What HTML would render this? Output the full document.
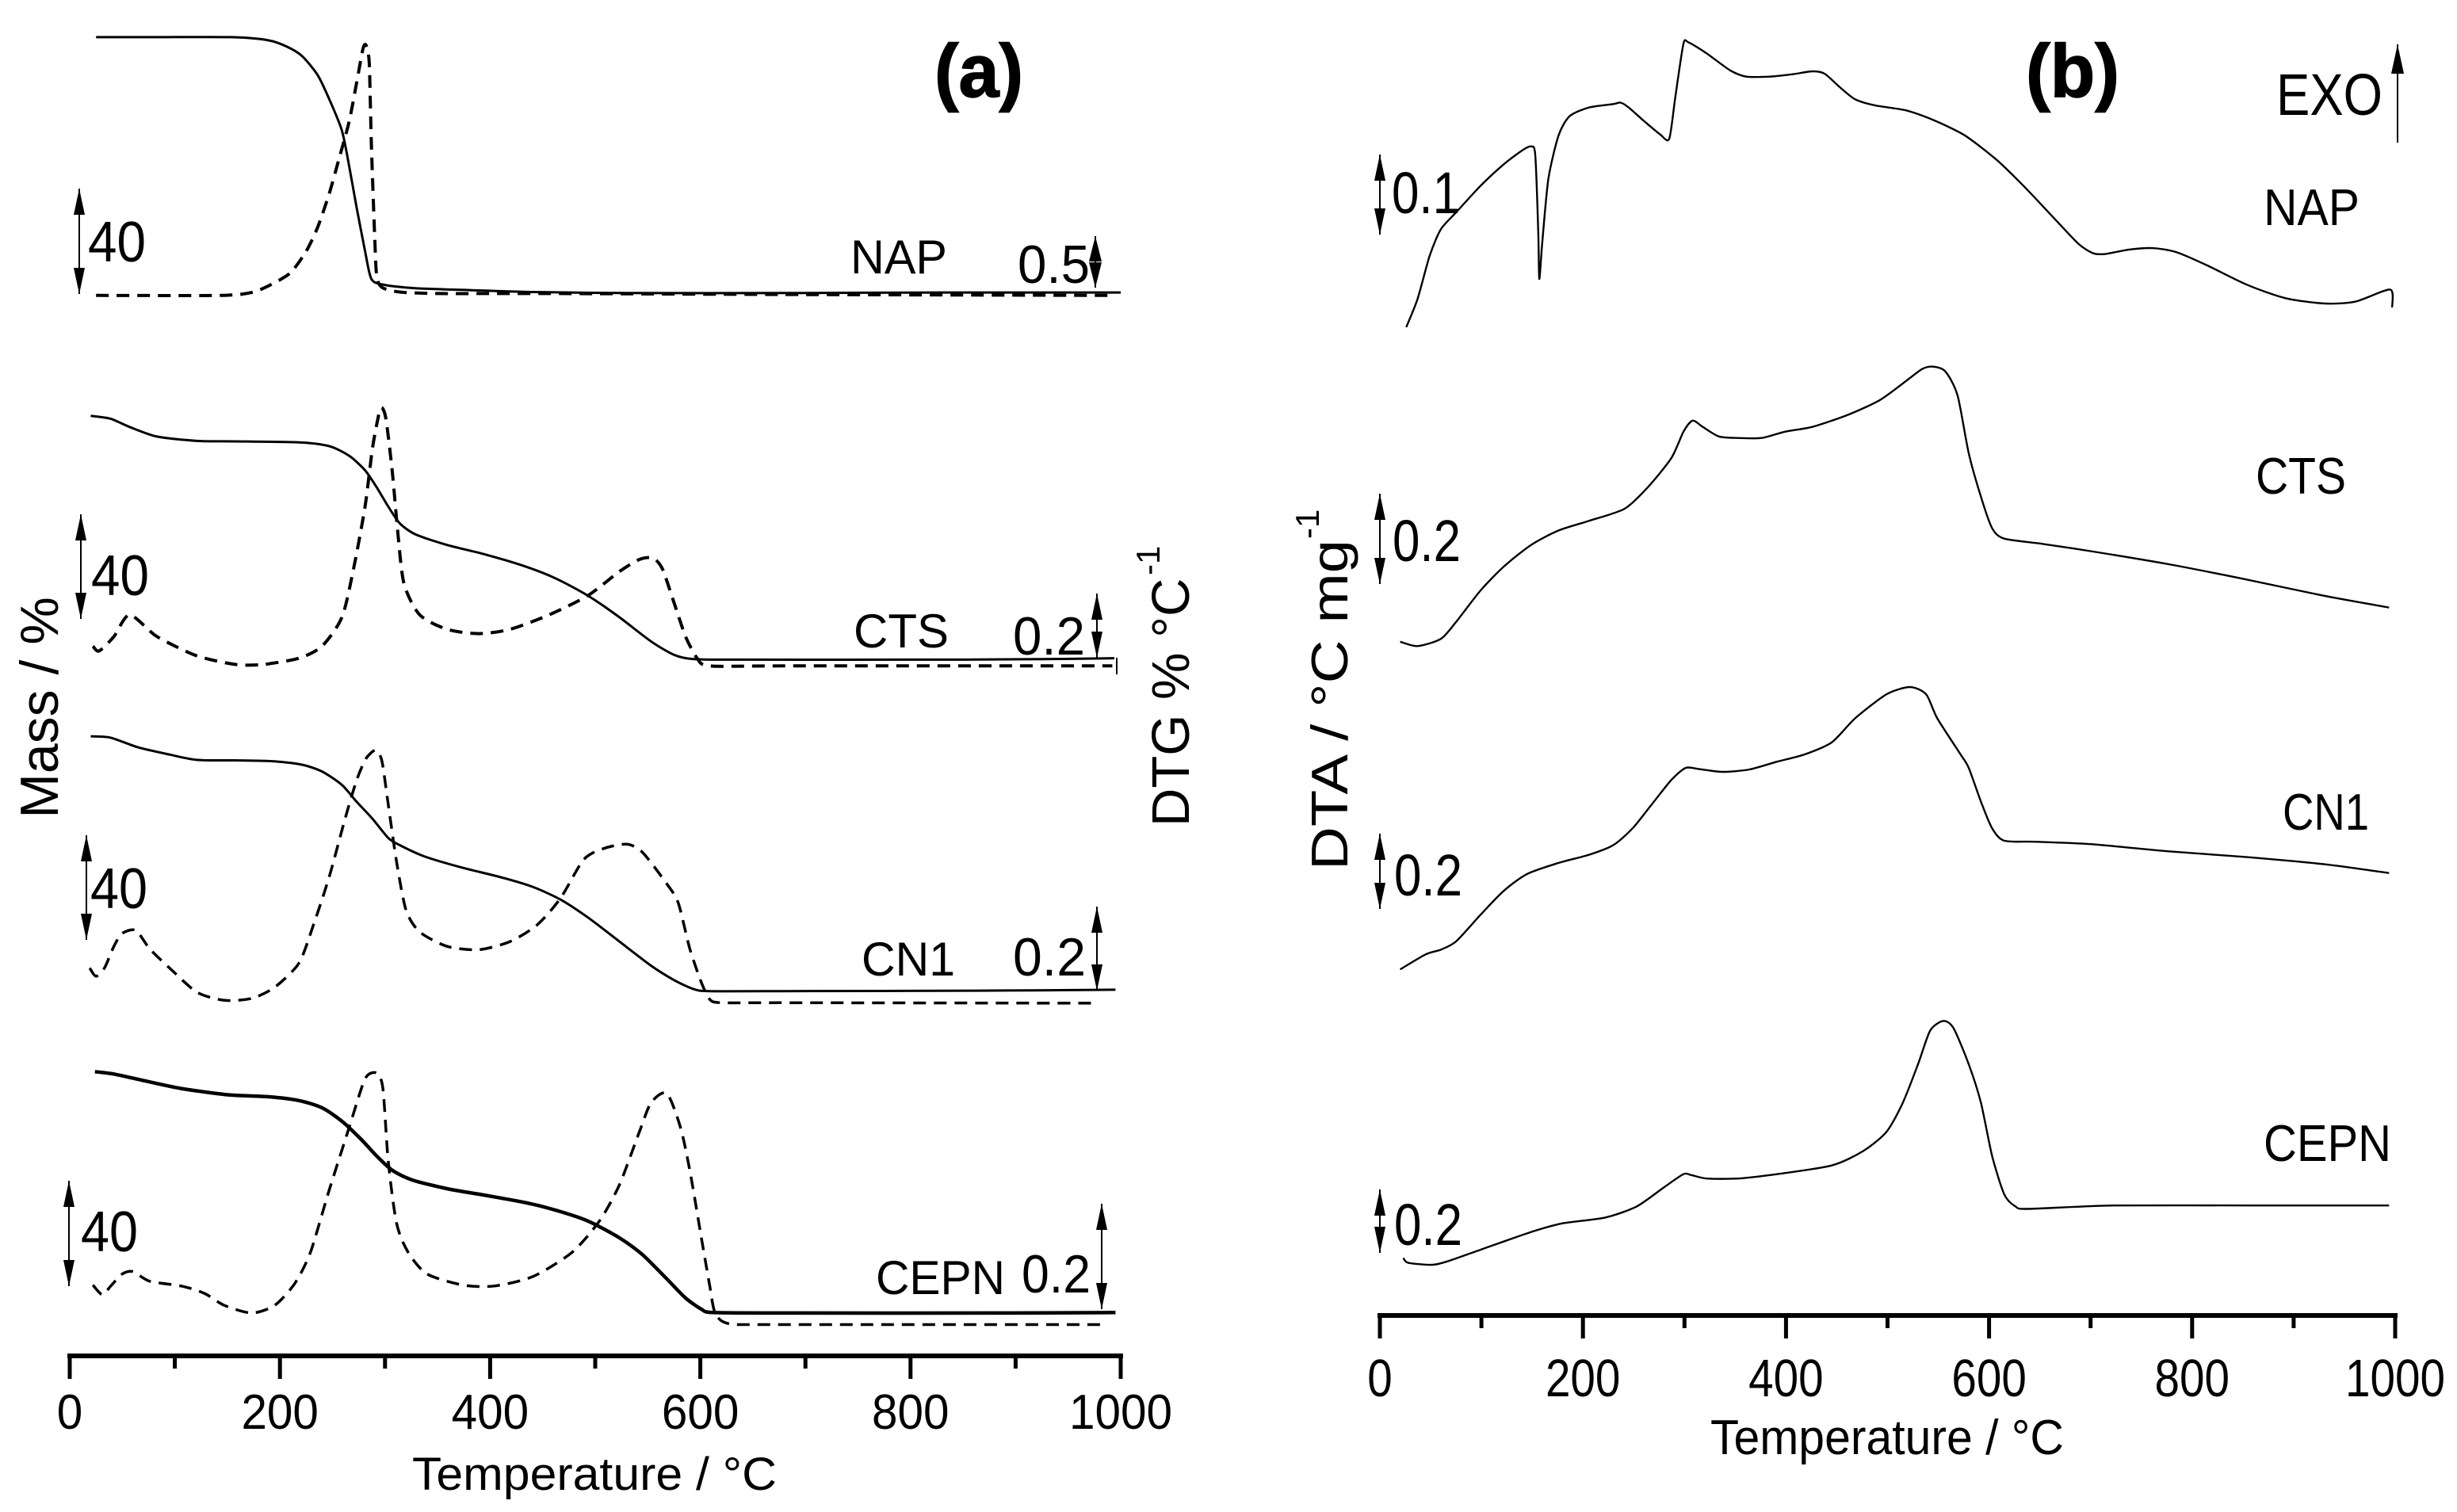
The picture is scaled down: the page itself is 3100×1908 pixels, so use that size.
<!DOCTYPE html>
<html>
<head>
<meta charset="utf-8">
<title>TG/DTG and DTA curves</title>
<style>
html,body{margin:0;padding:0;background:#fff;width:3100px;height:1908px;overflow:hidden}
svg{display:block}
text{font-family:"Liberation Sans",sans-serif;fill:#000}
</style>
</head>
<body>
<svg id="chart" width="3100" height="1908" viewBox="0 0 3100 1908" xmlns="http://www.w3.org/2000/svg">
<rect width="3100" height="1908" fill="#fff"/>
<g id="marks"></g>
<g id="annotations"></g>
<g>
<text x="1179" y="122" font-size="95" font-weight="bold" stroke="#000" stroke-width="1.5" textLength="112" lengthAdjust="spacingAndGlyphs">(a)</text>
<text x="2556" y="122" font-size="95" font-weight="bold" stroke="#000" stroke-width="1.5" textLength="118" lengthAdjust="spacingAndGlyphs">(b)</text>
<text transform="translate(73 893) rotate(-90)" text-anchor="middle" font-size="68">Mass / %</text>
<text transform="translate(1500 1043) rotate(-90)" font-size="67">DTG % °C</text>
<text transform="translate(1463 726) rotate(-90)" font-size="42">-1</text>
<text transform="translate(1700 1098) rotate(-90)" font-size="65" textLength="417" lengthAdjust="spacingAndGlyphs">DTA / °C mg</text>
<text transform="translate(1664 680) rotate(-90)" font-size="42">-1</text>
<text x="520" y="1880" font-size="58" textLength="460" lengthAdjust="spacingAndGlyphs">Temperature / °C</text>
<text x="2158" y="1835" font-size="62" textLength="446" lengthAdjust="spacingAndGlyphs">Temperature / °C</text>
<text x="1073" y="345" font-size="60" textLength="122" lengthAdjust="spacingAndGlyphs">NAP</text>
<text x="1077" y="817" font-size="60" textLength="120" lengthAdjust="spacingAndGlyphs">CTS</text>
<text x="1087" y="1231" font-size="60" textLength="118" lengthAdjust="spacingAndGlyphs">CN1</text>
<text x="1105" y="1633" font-size="60" textLength="163" lengthAdjust="spacingAndGlyphs">CEPN</text>
<text x="2856" y="284" font-size="65" textLength="121" lengthAdjust="spacingAndGlyphs">NAP</text>
<text x="2846" y="623" font-size="65" textLength="114" lengthAdjust="spacingAndGlyphs">CTS</text>
<text x="2880" y="1047" font-size="65" textLength="109" lengthAdjust="spacingAndGlyphs">CN1</text>
<text x="2856" y="1465" font-size="65" textLength="161" lengthAdjust="spacingAndGlyphs">CEPN</text>
<text x="2872" y="145" font-size="74" textLength="134" lengthAdjust="spacingAndGlyphs">EXO</text>
<text x="111" y="330" font-size="72" textLength="73" lengthAdjust="spacingAndGlyphs">40</text>
<text x="115" y="751" font-size="72" textLength="73" lengthAdjust="spacingAndGlyphs">40</text>
<text x="114" y="1146" font-size="72" textLength="72" lengthAdjust="spacingAndGlyphs">40</text>
<text x="102" y="1579" font-size="72" textLength="72" lengthAdjust="spacingAndGlyphs">40</text>
<text x="1284" y="357" font-size="68" textLength="91" lengthAdjust="spacingAndGlyphs">0.5</text>
<text x="1278" y="826" font-size="68" textLength="91" lengthAdjust="spacingAndGlyphs">0.2</text>
<text x="1278" y="1231" font-size="68" textLength="92" lengthAdjust="spacingAndGlyphs">0.2</text>
<text x="1289" y="1631" font-size="68" textLength="87" lengthAdjust="spacingAndGlyphs">0.2</text>
<text x="1756" y="269" font-size="74" textLength="86" lengthAdjust="spacingAndGlyphs">0.1</text>
<text x="1757" y="708" font-size="74" textLength="86" lengthAdjust="spacingAndGlyphs">0.2</text>
<text x="1759" y="1130" font-size="74" textLength="86" lengthAdjust="spacingAndGlyphs">0.2</text>
<text x="1759" y="1571" font-size="74" textLength="86" lengthAdjust="spacingAndGlyphs">0.2</text>
</g>
</svg>
<script>
// Tick values for both temperature axes
const tickValues = [0,100,200,300,400,500,600,700,800,900,1000];
const tickLabels = ['0','','200','','400','','600','','800','','1000'];

// Panel (a) — temperature (°C) and signal (arbitrary units above the axis)
const napTgT = [25,83,154,188,206,221,236,247,259,266,273,281,287,299,329,381,441,530,679,828,1000];
const napTgV = [2737,2737,2737,2731,2718,2698,2658,2608,2543,2468,2383,2293,2235,2223,2216,2212,2208,2206,2206,2207,2207];
const napDtgT = [25,143,173,191,210,225,236,247,256,266,273,279,282,285,287,290,292,297,314,352,456,679,992];
const napDtgV = [2201,2201,2207,2223,2248,2293,2343,2413,2483,2563,2643,2713,2720,2683,2513,2333,2243,2218,2208,2205,2205,2203,2201];
const ctsTgT = [20,39,57,83,121,158,218,247,266,281,292,303,314,329,359,396,434,463,493,523,553,575,594,642,828,925,994];
const ctsTgV = [1951,1945,1928,1908,1899,1898,1896,1888,1868,1838,1803,1763,1728,1705,1683,1663,1638,1613,1578,1533,1483,1455,1446,1445,1445,1446,1448];
const ctsDtgT = [22,28,42,57,83,121,158,184,218,240,259,270,281,288,294,297,301,307,312,318,333,359,389,419,456,493,523,542,555,564,575,586,597,609,679,992];
const ctsDtgV = [1473,1463,1493,1538,1493,1453,1435,1435,1448,1473,1533,1633,1763,1883,1953,1968,1943,1833,1713,1603,1538,1508,1499,1508,1538,1578,1628,1653,1656,1633,1563,1493,1448,1432,1432,1432];
const cn1TgT = [20,39,65,95,121,158,195,221,240,259,273,288,303,314,337,374,411,441,467,493,523,553,575,594,609,679,866,995];
const cn1TgV = [1286,1283,1263,1248,1237,1236,1234,1227,1213,1185,1150,1115,1075,1060,1037,1013,993,973,947,910,860,810,780,761,757,757,758,760];
const cn1DtgT = [19,25,33,42,50,63,76,95,121,147,173,195,218,232,247,262,273,282,291,297,303,311,320,333,359,389,419,445,467,489,508,530,545,568,579,590,601,609,620,679,977];
const cn1DtgV = [805,788,805,850,877,883,845,805,755,738,742,765,815,895,995,1115,1195,1240,1257,1235,1145,1025,925,880,850,843,860,895,950,1030,1053,1062,1045,980,940,845,775,740,733,733,732];
const cepnTgT = [24,42,69,106,150,188,218,240,259,277,292,307,326,359,396,434,463,493,523,545,568,586,601,612,679,873,995];
const cepnTgV = [590,585,572,555,542,538,530,515,487,450,415,385,365,347,333,318,302,280,245,210,160,120,97,90,89,89,90];
const cepnDtgT = [22,31,39,50,60,76,106,128,147,173,195,214,229,247,266,281,292,298,303,311,322,340,374,404,441,478,504,523,542,553,568,581,590,601,609,614,627,679,985];
const cepnDtgV = [147,127,145,170,175,155,145,130,105,89,105,150,215,345,475,575,587,555,405,275,215,170,147,145,165,215,280,355,465,525,545,475,385,245,145,90,67,65,65];

// Panel (b) — temperature (°C) and DTA signal (arbitrary units above the axis)
const napDtaT = [26,37,49,60,75,99,122,141,149,153,156,157,160,166,176,187,206,230,237,245,260,276,285,291,299,304,322,345,361,384,407,426,438,453,468,488,518,545,576,607,634,661,688,703,715,738,761,784,815,854,892,931,961,995,997];
const napDtaV = [2048,2106,2196,2251,2286,2341,2386,2416,2423,2406,2246,2148,2226,2356,2446,2486,2504,2511,2514,2504,2476,2448,2439,2526,2636,2639,2616,2581,2568,2568,2573,2579,2574,2546,2521,2508,2498,2478,2446,2396,2341,2281,2221,2201,2200,2209,2212,2204,2176,2136,2108,2097,2101,2126,2089];
const ctsDtaT = [20,37,60,75,99,122,149,176,206,241,264,287,299,308,318,334,353,376,399,426,461,492,515,534,545,557,569,580,592,603,615,653,700,777,854,931,994];
const ctsDtaV = [1395,1386,1401,1436,1501,1551,1596,1626,1646,1671,1716,1776,1831,1854,1841,1821,1818,1818,1831,1841,1866,1896,1931,1961,1966,1956,1906,1786,1696,1631,1609,1598,1583,1556,1524,1490,1466];
const cn1DtaT = [20,45,60,75,99,122,145,176,206,230,249,268,287,301,314,337,364,391,418,445,468,499,522,538,549,572,580,592,603,615,646,700,777,854,931,994];
const cn1DtaV = [715,746,756,773,828,878,913,936,953,973,1008,1058,1108,1133,1131,1125,1130,1146,1161,1186,1236,1286,1301,1286,1236,1161,1133,1063,1008,982,980,975,960,948,933,915];
const cepnDtaT = [23,28,52,68,99,149,180,222,253,280,299,307,322,353,391,445,476,499,515,530,542,555,565,580,592,603,615,626,638,723,854,994];
const cepnDtaV = [116,106,102,110,133,170,188,200,223,263,290,288,281,281,290,308,338,378,438,518,588,608,593,518,438,328,248,223,218,225,225,225];

const SVGNS = 'http://www.w3.org/2000/svg';
const marks = document.getElementById('marks');
const annotations = document.getElementById('annotations');
const UNIT = 0.608;
const xA = t => 88 + t * 1.326;
const yA = v => 1711 - v * UNIT;
const xB = t => 1741 + t * 1.281;
const yB = v => 1658 - v * UNIT;

function pathFrom(ts, vs, sx, sy) {
  const p = ts.map((t, i) => [sx(t), sy(vs[i])]);
  let d = 'M' + p[0][0].toFixed(1) + ' ' + p[0][1].toFixed(1);
  for (let i = 0; i < p.length - 1; i++) {
    const a = p[Math.max(i - 1, 0)], b = p[i], c = p[i + 1], e = p[Math.min(i + 2, p.length - 1)];
    const k = 1 / 8;
    d += ' C' + (b[0] + (c[0] - a[0]) * k).toFixed(1) + ' ' + (b[1] + (c[1] - a[1]) * k).toFixed(1) +
         ' ' + (c[0] - (e[0] - b[0]) * k).toFixed(1) + ' ' + (c[1] - (e[1] - b[1]) * k).toFixed(1) +
         ' ' + c[0].toFixed(1) + ' ' + c[1].toFixed(1);
  }
  return d;
}

function drawCurve(name, ts, vs, sx, sy, width, dash) {
  const el = document.createElementNS(SVGNS, 'path');
  
  
  el.setAttribute('d', pathFrom(ts, vs, sx, sy));
  el.setAttribute('fill', 'none');
  el.setAttribute('stroke', '#000');
  el.setAttribute('stroke-width', width);
  el.setAttribute('stroke-linejoin', 'round');
  if (dash) el.setAttribute('stroke-dasharray', dash);
  marks.appendChild(el);
}

drawCurve('nap-mass-curve', napTgT, napTgV, xA, yA, 3, null);
drawCurve('nap-dtg-curve', napDtgT, napDtgV, xA, yA, 4, '16 10');
drawCurve('cts-mass-curve', ctsTgT, ctsTgV, xA, yA, 3, null);
drawCurve('cts-dtg-curve', ctsDtgT, ctsDtgV, xA, yA, 4, '16 10');
drawCurve('cn1-mass-curve', cn1TgT, cn1TgV, xA, yA, 3, null);
drawCurve('cn1-dtg-curve', cn1DtgT, cn1DtgV, xA, yA, 3.5, '16 10');
drawCurve('cepn-mass-curve', cepnTgT, cepnTgV, xA, yA, 4.5, null);
drawCurve('cepn-dtg-curve', cepnDtgT, cepnDtgV, xA, yA, 3.5, '16 10');
drawCurve('nap-dta-curve', napDtaT, napDtaV, xB, yB, 2.4, null);
drawCurve('cts-dta-curve', ctsDtaT, ctsDtaV, xB, yB, 2.4, null);
drawCurve('cn1-dta-curve', cn1DtaT, cn1DtaV, xB, yB, 2.4, null);
drawCurve('cepn-dta-curve', cepnDtaT, cepnDtaV, xB, yB, 2.4, null);

function drawAxis(prefix, sx, axisY, labelY, fontSize, digitWidth) {
  const line = document.createElementNS(SVGNS, 'line');
  
  
  line.setAttribute('x1', sx(0) - 3);
  line.setAttribute('x2', sx(1000) + 3);
  line.setAttribute('y1', axisY);
  line.setAttribute('y2', axisY);
  line.setAttribute('stroke', '#000');
  line.setAttribute('stroke-width', 6);
  marks.appendChild(line);
  tickValues.forEach((t, i) => {
    const tick = document.createElementNS(SVGNS, 'line');
    
    
    tick.setAttribute('x1', sx(t));
    tick.setAttribute('x2', sx(t));
    tick.setAttribute('y1', axisY);
    tick.setAttribute('y2', axisY + (tickLabels[i] ? 29 : 16));
    tick.setAttribute('stroke', '#000');
    tick.setAttribute('stroke-width', 5);
    marks.appendChild(tick);
    if (tickLabels[i]) {
      const label = document.createElementNS(SVGNS, 'text');
      
      
      label.setAttribute('x', sx(t));
      label.setAttribute('y', labelY);
      label.setAttribute('text-anchor', 'middle');
      label.setAttribute('font-size', fontSize);
      label.setAttribute('textLength', tickLabels[i].length * digitWidth);
      label.setAttribute('lengthAdjust', 'spacingAndGlyphs');
      label.textContent = tickLabels[i];
      marks.appendChild(label);
    }
  });
}
drawAxis('panel-a', xA, 1711, 1803, 62, 32.5);
drawAxis('panel-b', xB, 1660, 1762, 67, 31.5);

function drawArrow(name, x, y1, y2, w, up, down, L) {
  const g = document.createElementNS(SVGNS, 'g');
  
  
  const shaft = document.createElementNS(SVGNS, 'line');
  shaft.setAttribute('x1', x);
  shaft.setAttribute('x2', x);
  shaft.setAttribute('y1', y1);
  shaft.setAttribute('y2', y2);
  shaft.setAttribute('stroke', '#000');
  shaft.setAttribute('stroke-width', 2);
  g.appendChild(shaft);
  if (up) {
    const h = document.createElementNS(SVGNS, 'polygon');
    h.setAttribute('points', `${x},${y1} ${x + w},${y1 + L} ${x - w},${y1 + L}`);
    g.appendChild(h);
  }
  if (down) {
    const h = document.createElementNS(SVGNS, 'polygon');
    h.setAttribute('points', `${x},${y2} ${x + w},${y2 - L} ${x - w},${y2 - L}`);
    g.appendChild(h);
  }
  annotations.appendChild(g);
}
drawArrow('mass-arrow-nap', 100, 238, 371, 7, true, true, 33);
drawArrow('mass-arrow-cts', 102, 649, 781, 7, true, true, 33);
drawArrow('mass-arrow-cn1', 109, 1054, 1186, 7, true, true, 33);
drawArrow('mass-arrow-cepn', 87, 1490, 1623, 7, true, true, 33);
drawArrow('dtg-arrow-nap', 1382, 298, 363, 8, true, true, 32);
drawArrow('dtg-arrow-cts', 1384, 749, 830, 7, true, true, 33);
drawArrow('dtg-arrow-cn1', 1384, 1144, 1250, 7, true, true, 33);
drawArrow('dtg-arrow-cepn', 1390, 1519, 1652, 7, true, true, 33);
drawArrow('dta-arrow-nap', 1741, 195, 296, 7, true, true, 33);
drawArrow('dta-arrow-cts', 1741, 623, 737, 7, true, true, 33);
drawArrow('dta-arrow-cn1', 1741, 1052, 1147, 7, true, true, 33);
drawArrow('dta-arrow-cepn', 1741, 1501, 1581, 7, true, true, 33);
drawArrow('exo-arrow', 3025, 56, 180, 8, true, false, 37);
drawArrow('cts-end-tick', 1409, 830, 851, 0, false, false, 0);
</script>
</body>
</html>
